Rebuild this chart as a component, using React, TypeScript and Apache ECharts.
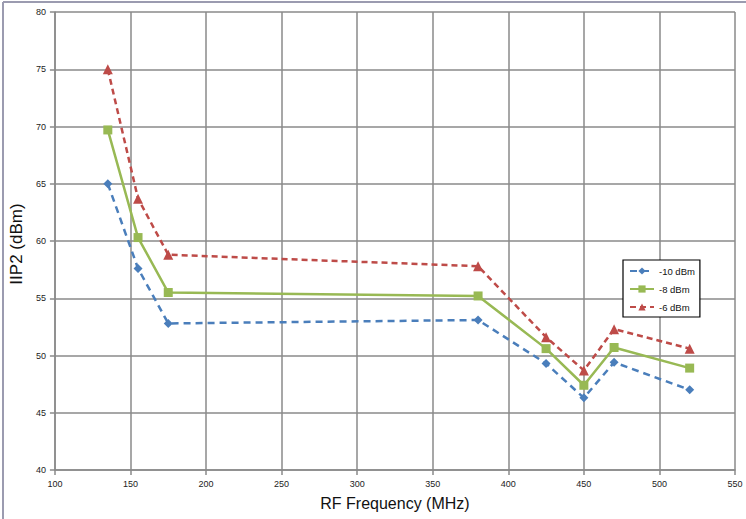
import React, { useEffect, useRef } from "react";
import * as echarts from "echarts";

const freqs = [135, 155, 175, 380, 425, 450, 470, 520];
const m10 = [65.0, 57.6, 52.8, 53.1, 49.3, 46.3, 49.4, 47.0];
const m8 = [69.7, 60.3, 55.5, 55.2, 50.6, 47.4, 50.7, 48.9];
const m6 = [75.0, 63.7, 58.8, 57.8, 51.6, 48.7, 52.3, 50.6];
const seriesNames = ["-10 dBm", "-8 dBm", "-6 dBm"];

const pair = (ys: number[]) => freqs.map((x, i) => [x, ys[i]]);

export default function App() {
  const ref = useRef<HTMLDivElement>(null);
  useEffect(() => {
    document.body.style.margin = "0";
    const chart = echarts.init(ref.current!, null, { renderer: "svg" });
    const font = "Liberation Sans, Arial, sans-serif";
    const gridColor = "#8a8a8a";
    chart.setOption({
      animation: false,
      backgroundColor: "#ffffff",
      textStyle: { fontFamily: font },
      grid: { left: 54, top: 12, right: 11, bottom: 49, containLabel: false },
      graphic: [
        { type: "line", shape: { x1: 3, y1: 2, x2: 3, y2: 519 }, style: { stroke: "#9b9bb0", lineWidth: 2 } },
        { type: "line", shape: { x1: 3, y1: 2, x2: 746, y2: 2 }, style: { stroke: "#9b9bb0", lineWidth: 2 } },
      ],
      legend: {
        orient: "vertical",
        left: 623,
        top: 260,
        backgroundColor: "#ffffff",
        borderColor: "#000000",
        borderWidth: 1.2,
        borderRadius: 0,
        padding: [6, 5, 5, 6],
        itemWidth: 24,
        itemHeight: 9,
        itemGap: 8,
        textStyle: { fontSize: 9.5, color: "#111", fontFamily: font },
        data: seriesNames,
      },
      xAxis: {
        type: "value",
        min: 100,
        max: 550,
        interval: 50,
        name: "RF Frequency (MHz)",
        nameLocation: "middle",
        nameGap: 25,
        nameTextStyle: { fontSize: 16, color: "#111", fontFamily: font },
        axisLine: { show: true, lineStyle: { color: gridColor, width: 1.5 } },
        axisTick: { show: true, length: 5, lineStyle: { color: gridColor, width: 1.5 } },
        axisLabel: { fontSize: 9, color: "#222", margin: 9 },
        splitLine: { show: true, lineStyle: { color: gridColor, width: 1.5 } },
      },
      yAxis: {
        type: "value",
        min: 40,
        max: 80,
        interval: 5,
        name: "IIP2 (dBm)",
        nameLocation: "middle",
        nameGap: 23,
        nameTextStyle: { fontSize: 17, color: "#111", fontFamily: font, padding: [0, 6, 0, 0] },
        axisLine: { show: true, lineStyle: { color: gridColor, width: 1.5 } },
        axisTick: { show: true, length: 5, lineStyle: { color: gridColor, width: 1.5 } },
        axisLabel: { fontSize: 9, color: "#222", margin: 9 },
        splitLine: { show: true, lineStyle: { color: gridColor, width: 1.5 } },
      },
      series: [
        {
          name: seriesNames[0],
          type: "line",
          data: pair(m10),
          symbol: "diamond",
          symbolSize: 9,
          itemStyle: { color: "#4a7ebb" },
          lineStyle: { color: "#4a7ebb", width: 2.5, type: [7, 5] },
          z: 3,
        },
        {
          name: seriesNames[1],
          type: "line",
          data: pair(m8),
          symbol: "rect",
          symbolSize: 9,
          itemStyle: { color: "#98b954" },
          lineStyle: { color: "#98b954", width: 2.5 },
          z: 4,
        },
        {
          name: seriesNames[2],
          type: "line",
          data: pair(m6),
          symbol: "triangle",
          symbolSize: 10,
          itemStyle: { color: "#be4b48" },
          lineStyle: { color: "#be4b48", width: 2.5, type: [6, 4] },
          z: 5,
        },
      ],
    });
    return () => chart.dispose();
  }, []);
  return <div ref={ref} style={{ width: 746, height: 519, position: "absolute", left: 0, top: 0 }} />;
}
